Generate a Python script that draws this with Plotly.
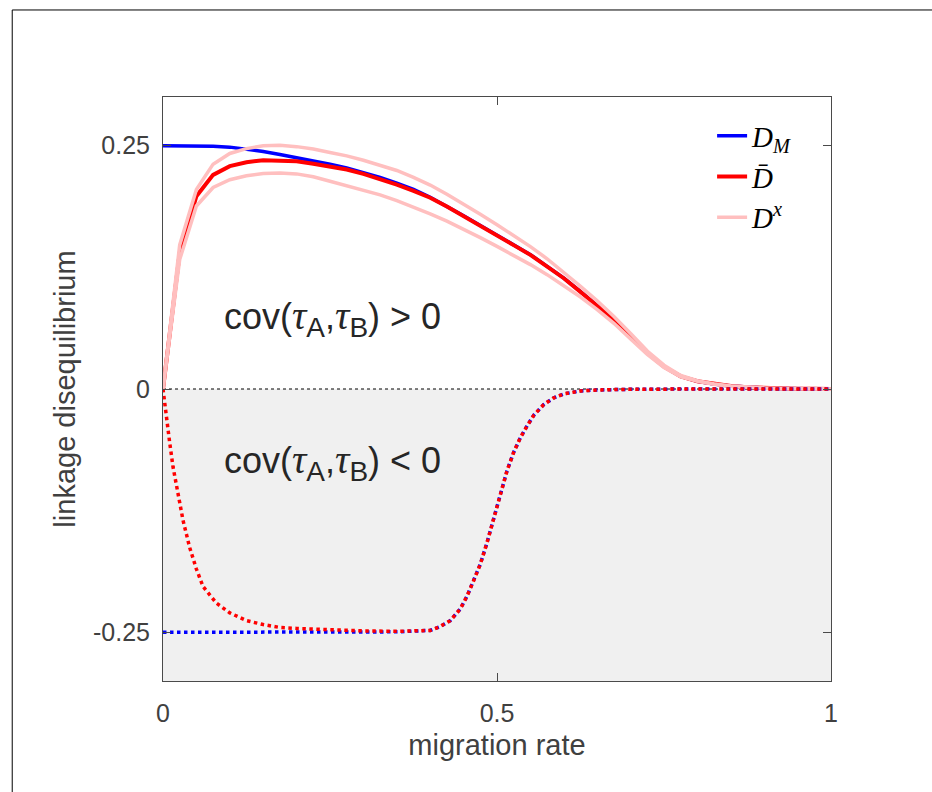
import plotly.graph_objects as go

# ---------------- data ----------------
x_grid = [0.0, 0.025, 0.05, 0.075, 0.1, 0.125, 0.15, 0.175, 0.2, 0.225,
          0.25, 0.275, 0.3, 0.325, 0.35, 0.375, 0.4, 0.425, 0.45, 0.475,
          0.5, 0.525, 0.55, 0.575, 0.6, 0.625, 0.65, 0.675, 0.7, 0.725,
          0.75, 0.775, 0.8, 0.825, 0.85, 0.875, 0.9, 0.925, 0.95, 0.975, 1.0]

DM_pos = [0.2500, 0.2500, 0.2498, 0.2493, 0.2485, 0.2465, 0.2440, 0.2410, 0.2378, 0.2345,
          0.2310, 0.2270, 0.2225, 0.2175, 0.2115, 0.2050, 0.1970, 0.1880, 0.1780, 0.1680,
          0.1580, 0.1480, 0.1380, 0.1260, 0.1140, 0.1000, 0.0860, 0.0710, 0.0540, 0.0370,
          0.0230, 0.0130, 0.0080, 0.0050, 0.0030, 0.0018, 0.0010, 0.0006, 0.0003, 0.0002, 0.0001]

Dbar_pos = [0.0, 0.140, 0.198, 0.220, 0.229, 0.233, 0.235, 0.235, 0.234, 0.2315,
            0.229, 0.2255, 0.221, 0.216, 0.210, 0.2035, 0.1965, 0.1875, 0.1778, 0.1678,
            0.1578, 0.1478, 0.1378, 0.1258, 0.1138, 0.0998, 0.0858, 0.0708, 0.0540, 0.0370,
            0.0230, 0.0130, 0.0080, 0.0050, 0.0030, 0.0018, 0.0010, 0.0006, 0.0003, 0.0002, 0.0001]

Dx_upper = [0.0, 0.148, 0.205, 0.231, 0.242, 0.247, 0.250, 0.2505, 0.249, 0.2465,
            0.243, 0.2395, 0.235, 0.230, 0.2245, 0.2175, 0.2095, 0.2000, 0.1900, 0.1795,
            0.1688, 0.1578, 0.1463, 0.1338, 0.1200, 0.1055, 0.0905, 0.0745, 0.0570, 0.0390,
            0.0245, 0.0140, 0.0085, 0.0052, 0.0032, 0.0019, 0.0011, 0.0006, 0.0003, 0.0002, 0.0001]

Dx_lower = [0.0, 0.133, 0.188, 0.207, 0.215, 0.219, 0.2215, 0.222, 0.221, 0.218,
            0.2135, 0.209, 0.2045, 0.1995, 0.1935, 0.187, 0.180, 0.1725, 0.1642, 0.1555,
            0.1465, 0.1373, 0.1278, 0.1175, 0.1065, 0.0945, 0.0815, 0.0675, 0.0515, 0.0355,
            0.0220, 0.0125, 0.0078, 0.0048, 0.0029, 0.0017, 0.0010, 0.0005, 0.0003, 0.0002, 0.0001]

x_neg = [0.0, 0.005, 0.01, 0.015, 0.02, 0.03, 0.04, 0.05, 0.06, 0.08,
         0.1, 0.125, 0.15, 0.175, 0.2, 0.25, 0.3, 0.35, 0.4, 0.415,
         0.43, 0.445, 0.455, 0.465, 0.475, 0.485, 0.495, 0.505, 0.515, 0.525,
         0.535, 0.545, 0.555, 0.57, 0.585, 0.6, 0.625, 0.65, 0.7, 0.8, 0.9, 1.0]

DM_neg = [-0.25, -0.25, -0.25, -0.25, -0.25, -0.25, -0.25, -0.25, -0.25, -0.25,
          -0.25, -0.25, -0.25, -0.25, -0.25, -0.25, -0.2498, -0.2495, -0.248, -0.244,
          -0.238, -0.226, -0.213, -0.197, -0.180, -0.158, -0.134, -0.108, -0.084, -0.065,
          -0.050, -0.038, -0.027, -0.016, -0.009, -0.005, -0.002, -0.001, -0.0003, 0.0, 0.0, 0.0]

Dbar_neg = [0.0, -0.030, -0.055, -0.080, -0.100, -0.135, -0.163, -0.185, -0.203, -0.220,
            -0.230, -0.238, -0.242, -0.245, -0.246, -0.2475, -0.2485, -0.249, -0.248, -0.244,
            -0.238, -0.226, -0.213, -0.197, -0.180, -0.158, -0.134, -0.108, -0.084, -0.065,
            -0.050, -0.038, -0.027, -0.016, -0.009, -0.005, -0.002, -0.001, -0.0003, 0.0, 0.0, 0.0]

x_ticks = [0, 0.5, 1]
x_ticktext = ["0", "0.5", "1"]
y_ticks = [-0.25, 0, 0.25]
y_ticktext = ["-0.25", "0", "0.25"]

# ---------------- styles ----------------
BLUE = "rgb(0,0,255)"
RED = "rgb(255,0,0)"
PINK = "rgb(255,191,191)"
AXC = "#4a4a4a"
TXT = "#404040"
SANS = "Liberation Sans, Arial, Helvetica, sans-serif"
SERIF = "Liberation Serif, Times New Roman, serif"

fig = go.Figure()

fig.add_trace(go.Scatter(x=x_grid, y=DM_pos, mode="lines", name="<i>D</i><sub><i>M</i></sub>",
                         line=dict(color=BLUE, width=3.5), legendrank=1))
fig.add_trace(go.Scatter(x=x_grid, y=Dbar_pos, mode="lines", name="<i>D\u0304</i>",
                         line=dict(color=RED, width=4), legendrank=2))
fig.add_trace(go.Scatter(x=x_grid, y=Dx_upper, mode="lines", name="<i>D</i><sup><i>x</i></sup>",
                         line=dict(color=PINK, width=3.5), legendrank=3))
fig.add_trace(go.Scatter(x=x_grid, y=Dx_lower, mode="lines", showlegend=False,
                         line=dict(color=PINK, width=3.5)))
fig.add_trace(go.Scatter(x=x_neg, y=DM_neg, mode="lines", showlegend=False,
                         line=dict(color=BLUE, width=3.5, dash="dot")))
fig.add_trace(go.Scatter(x=x_neg, y=Dbar_neg, mode="lines", showlegend=False,
                         line=dict(color=RED, width=3.5, dash="dot")))

# grey negative region and zero line
fig.add_shape(type="rect", xref="x", yref="y", x0=0, x1=1, y0=-0.3, y1=0,
              fillcolor="#f0f0f0", line=dict(width=0), layer="below")
fig.add_shape(type="line", xref="x", yref="y", x0=0, x1=1, y0=0, y1=0,
              line=dict(color="black", width=1, dash="dot"), layer="below")

# outer frame (only top and left edges visible in the crop)
fig.add_shape(type="line", xref="paper", yref="paper", x0=-0.2257, x1=1.2, y0=1.149, y1=1.149,
              line=dict(color="black", width=1))
fig.add_shape(type="line", xref="paper", yref="paper", x0=-0.2257, x1=-0.2257, y0=-0.3, y1=1.149,
              line=dict(color="black", width=1))

tau = "<span style='font-family:Liberation Serif;font-size:40px'><i>τ</i></span>"
subA = "<sub><span style='font-size:28px'>A</span></sub>"
subB = "<sub><span style='font-size:28px'>B</span></sub>"
fig.add_annotation(x=0.088, y=0.073, xref="x", yref="y", xanchor="left", yanchor="middle",
                   text=f"cov({tau}{subA},{tau}{subB}) &gt; 0", showarrow=False,
                   font=dict(family=SANS, size=36, color="#262626"))
fig.add_annotation(x=0.088, y=-0.075, xref="x", yref="y", xanchor="left", yanchor="middle",
                   text=f"cov({tau}{subA},{tau}{subB}) &lt; 0", showarrow=False,
                   font=dict(family=SANS, size=36, color="#262626"))

fig.update_layout(
    width=932, height=792,
    margin=dict(l=163, r=101, t=97, b=111),
    paper_bgcolor="white", plot_bgcolor="white",
    showlegend=True,
    legend=dict(x=0.822, y=0.977, xanchor="left", yanchor="top",
                bgcolor="rgba(0,0,0,0)", borderwidth=0,
                font=dict(family=SERIF, size=29, color="black"),
                tracegroupgap=0),
    font=dict(family=SANS, color=TXT),
)

fig.update_xaxes(range=[0, 1], tickvals=x_ticks, ticktext=x_ticktext,
                 showline=True, linecolor=AXC, linewidth=1, mirror="ticks",
                 ticks="inside", ticklen=8, tickcolor=AXC, showgrid=False, zeroline=False,
                 tickfont=dict(family=SANS, size=25, color=TXT), ticklabelstandoff=10,
                 title=dict(text="migration rate", font=dict(family=SANS, size=29, color=TXT),
                            standoff=8))
fig.update_yaxes(range=[-0.3, 0.3], tickvals=y_ticks, ticktext=y_ticktext,
                 showline=True, linecolor=AXC, linewidth=1, mirror="ticks",
                 ticks="inside", ticklen=8, tickcolor=AXC, showgrid=False, zeroline=False,
                 tickfont=dict(family=SANS, size=25, color=TXT), ticklabelstandoff=7,
                 title=dict(text="linkage disequilibrium", font=dict(family=SANS, size=29, color=TXT),
                            standoff=8))

fig.write_html("out.html")
